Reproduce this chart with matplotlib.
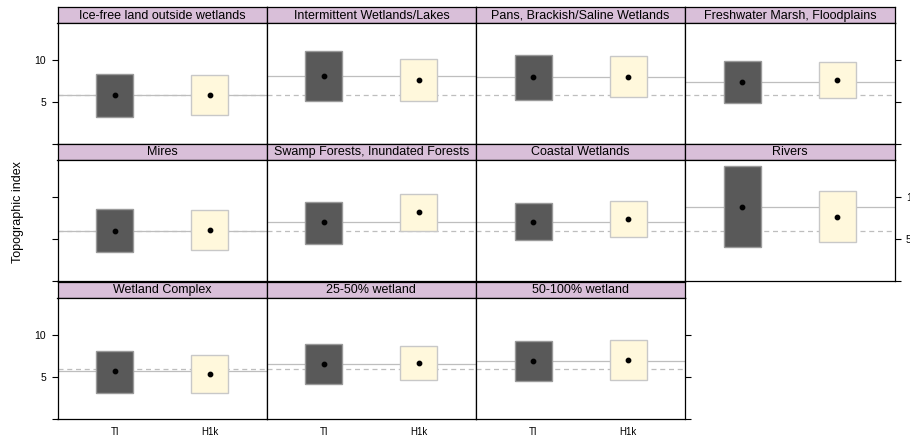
import numpy as np
import matplotlib
matplotlib.use("Agg")
import matplotlib.pyplot as plt

plt.rcParams["font.family"] = ["Liberation Sans", "DejaVu Sans"]

# ------------------------------
# Data
# ------------------------------
panels = ["Ice-free land outside wetlands", "Intermittent Wetlands/Lakes",
          "Pans, Brackish/Saline Wetlands", "Freshwater Marsh, Floodplains",
          "Mires", "Swamp Forests, Inundated Forests", "Coastal Wetlands", "Rivers",
          "Wetland Complex", "25-50% wetland", "50-100% wetland"]
groups = ["TI", "H1k"]

ti_low = [3.3, 5.2, 5.27, 4.92, 3.43, 4.41, 4.85, 4.0, 3.05, 4.13, 4.45]
ti_med = [5.9, 8.15, 7.96, 7.38, 5.97, 6.97, 7.03, 8.85, 5.65, 6.48, 6.84]
ti_high = [8.42, 11.07, 10.6, 9.92, 8.59, 9.46, 9.26, 13.68, 8.11, 8.88, 9.24]

h1k_low = [3.54, 5.2, 5.6, 5.48, 3.73, 5.98, 5.28, 4.6, 3.05, 4.6, 4.57]
h1k_med = [5.9, 7.65, 8.06, 7.7, 6.07, 8.2, 7.4, 7.57, 5.29, 6.68, 6.96]
h1k_high = [8.25, 10.2, 10.5, 9.84, 8.4, 10.4, 9.58, 10.68, 7.56, 8.71, 9.36]

# overall reference (TI median outside wetlands)
ref_value = ti_med[0]

yticks = [0, 5, 10]
ytick_labels = ["", "5", "10"]

# ------------------------------
# Layout (pixel based, lattice-like)
# ------------------------------
W, H = 910, 436
fig = plt.figure(figsize=(W / 100, H / 100), dpi=100)

col_x = [57.5, 266.75, 476.0, 685.25]
col_w = 209.25
row_top = [7.3, 144.0, 281.7]
strip_h = 16.0
panel_h = 121.0

fill_cols = ["#595959", "#FFF8DC"]
edge_cols = ["#9A9A9A", "#C8C8C8"]
line_col = "#BEBEBE"
strip_col = "#D9BFD9"


def fig_rect(x, y, w, h):
    return [x / W, 1 - (y + h) / H, w / W, h / H]


for i, name in enumerate(panels):
    r, c = divmod(i, 4)
    x0 = col_x[c]
    y0 = row_top[r]

    # strip
    sax = fig.add_axes(fig_rect(x0, y0, col_w, strip_h))
    sax.set_facecolor(strip_col)
    sax.set_xticks([])
    sax.set_yticks([])
    for sp in sax.spines.values():
        sp.set_linewidth(0.9)
    sax.text(0.5, 0.47, name, ha="center", va="center", fontsize=9, transform=sax.transAxes)

    # panel
    ax = fig.add_axes(fig_rect(x0, y0 + strip_h, col_w, panel_h))
    ax.set_xlim(0.4, 2.6)
    ax.set_ylim(0, 14.4)
    for sp in ax.spines.values():
        sp.set_linewidth(0.9)

    ax.axhline(ref_value, color=line_col, lw=0.9, ls=(0, (4, 3)), zorder=1)
    ax.axhline(ti_med[i], color=line_col, lw=0.9, zorder=1)

    lows = [ti_low[i], h1k_low[i]]
    meds = [ti_med[i], h1k_med[i]]
    highs = [ti_high[i], h1k_high[i]]
    xs = np.arange(1, len(groups) + 1)
    ax.bar(xs, np.array(highs) - np.array(lows), bottom=lows, width=0.39,
           color=fill_cols, edgecolor=edge_cols, linewidth=1.0, zorder=2)
    ax.scatter(xs, meds, s=10, color="black", zorder=3)

    # y axis: ticks both sides, labels alternate left/right by row
    ax.set_yticks(yticks)
    last_in_row = (c == 3) or (i == len(panels) - 1)
    ax.tick_params(axis="y", direction="out", length=4.2, width=0.8, labelsize=7.5,
                   left=(c == 0), right=last_in_row,
                   labelleft=(c == 0 and r != 1), labelright=(last_in_row and r == 1),
                   pad=4)
    ax.set_yticklabels(ytick_labels)

    # x axis labels only on the bottom row
    ax.set_xticks(xs)
    ax.tick_params(axis="x", length=0, labelsize=7, pad=6)
    if r == 2:
        ax.set_xticklabels(groups)
    else:
        ax.set_xticklabels([])

fig.text(18 / W, 1 - 212 / H, "Topographic index", rotation=90, ha="center", va="center",
         fontsize=9)

plt.savefig("out.png", dpi=100)
